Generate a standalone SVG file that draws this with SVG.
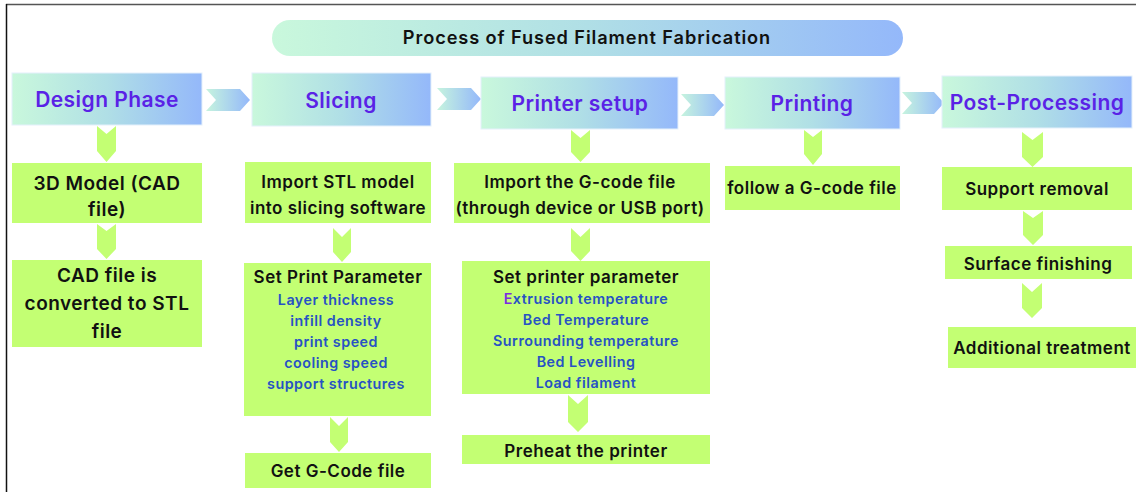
<svg xmlns="http://www.w3.org/2000/svg" width="1136" height="492" viewBox="0 0 1136 492">
<defs>
<linearGradient id="hg" x1="0" y1="0" x2="1" y2="0">
<stop offset="0" stop-color="#c9f8dc"/>
<stop offset="0.5" stop-color="#b0dfe6"/>
<stop offset="1" stop-color="#94b8fa"/>
</linearGradient>
<linearGradient id="ag" x1="0" y1="0" x2="1" y2="0">
<stop offset="0" stop-color="#c6f4de"/>
<stop offset="1" stop-color="#94b8fa"/>
</linearGradient>
<style>
.hd{fill:url(#hg);stroke:#e4f0fb;stroke-width:1}
.gb{fill:#c3ff73}
.ch{fill:#c3ff73}
.ha{fill:url(#ag)}
text{font-family:Inter,"Liberation Sans",sans-serif;text-anchor:middle}
.ht{font-size:21px;font-weight:600;fill:#5a22e6;letter-spacing:0.45px}
.tt{font-size:18.2px;font-weight:600;fill:#111;letter-spacing:0.9px}
.bt{font-size:17px;font-weight:600;fill:#111;letter-spacing:0.5px}
.bb{font-size:19px;font-weight:600;fill:#111;letter-spacing:0.5px}
.bl{font-size:14.3px;font-weight:600;fill:#2752c4;letter-spacing:0.5px}
</style>
</defs>
<rect x="0" y="0" width="1136" height="492" fill="#ffffff"/>
<line x1="6" y1="4.5" x2="1136" y2="4.5" stroke="#555" stroke-width="1.5"/>
<line x1="6.5" y1="4" x2="6.5" y2="492" stroke="#111" stroke-width="1.5"/>

<g id="title">
<rect x="272" y="20" width="631" height="36" rx="18" fill="url(#hg)"/>
<text x="587" y="44" class="tt">Process of Fused Filament Fabrication</text>
</g>

<g id="connectors">
<polygon class="ha" points="206,89 240,89 250,100 240,111 206,111 216,100"/>
<polygon class="ha" points="437,88 471,88 481,99 471,110 437,110 447,99"/>
<polygon class="ha" points="681,94 714,94 724,105 714,116 681,116 691,105"/>
<polygon class="ha" points="902,92 934,92 944,103 934,114 902,114 912,103"/>
<polygon class="ch" points="97,126 106.5,134 116,126 116,151 106.5,162 97,151"/>
<polygon class="ch" points="97,224 106.5,231 116,224 116,249 106.5,259 97,249"/>
<polygon class="ch" points="333,228 342,237 351,228 351,252 342,262 333,252"/>
<polygon class="ch" points="330,417 339,426 348,417 348,442 339,452 330,442"/>
<polygon class="ch" points="571,130 580.5,138 590,130 590,152 580.5,162 571,152"/>
<polygon class="ch" points="571,228 580.5,237 590,228 590,251 580.5,261 571,251"/>
<polygon class="ch" points="568,395 578,404 588,395 588,422 578,432 568,422"/>
<polygon class="ch" points="804,130 813,137 822,130 822,154 813,165 804,154"/>
<polygon class="ch" points="1022,132 1032.5,140 1043,132 1043,157 1032.5,167 1022,157"/>
<polygon class="ch" points="1023,211 1033,218 1043,211 1043,235 1033,245 1023,235"/>
<polygon class="ch" points="1022,283 1032,292 1042,283 1042,308 1032,318 1022,308"/>
</g>

<g id="design">
<rect class="hd" x="12" y="73" width="190" height="52"/>
<text class="ht" x="107" y="107">Design Phase</text>
</g>
<g id="slicing">
<rect class="hd" x="252" y="73" width="179" height="53"/>
<text class="ht" x="341" y="108">Slicing</text>
</g>
<g id="printer-setup">
<rect class="hd" x="481" y="77" width="197" height="52"/>
<text class="ht" x="580" y="111">Printer setup</text>
</g>
<g id="printing">
<rect class="hd" x="725" y="77" width="175" height="52"/>
<text class="ht" x="812" y="111">Printing</text>
</g>
<g id="post-processing">
<rect class="hd" x="942" y="76" width="190" height="52"/>
<text class="ht" x="1037" y="110">Post-Processing</text>
</g>

<g id="cad-model">
<rect class="gb" x="12" y="163" width="190" height="60"/>
<text class="bb" x="107" y="190">3D Model (CAD</text>
<text class="bb" x="107" y="216">file)</text>
</g>
<g id="cad-stl">
<rect class="gb" x="12" y="260" width="190" height="87"/>
<text class="bb" x="107" y="282">CAD file is</text>
<text class="bb" x="107" y="310">converted to STL</text>
<text class="bb" x="107" y="338">file</text>
</g>

<g id="import-stl">
<rect class="gb" x="245" y="162" width="186" height="61"/>
<text class="bt" x="338" y="188">Import STL model</text>
<text class="bt" x="338" y="214">into slicing software</text>
</g>
<g id="print-param">
<rect class="gb" x="244" y="263" width="187" height="153"/>
<text class="bt" x="338" y="283">Set Print Parameter</text>
<text class="bl" x="336" y="305">Layer thickness</text>
<text class="bl" x="336" y="326">infill density</text>
<text class="bl" x="336" y="347">print speed</text>
<text class="bl" x="336" y="368">cooling speed</text>
<text class="bl" x="336" y="389">support structures</text>
</g>
<g id="get-gcode">
<rect class="gb" x="245" y="453" width="186" height="35"/>
<text class="bt" x="338" y="477">Get G-Code file</text>
</g>

<g id="import-gcode">
<rect class="gb" x="454" y="163" width="256" height="60"/>
<text class="bt" x="580" y="188">Import the G-code file</text>
<text class="bt" x="580" y="214">(through device or USB port)</text>
</g>
<g id="printer-param">
<rect class="gb" x="462" y="261" width="248" height="133"/>
<text class="bt" x="586" y="283">Set printer parameter</text>
<text class="bl" x="586" y="304"><tspan fill="#7b2be0">E</tspan>xtrusion temperature</text>
<text class="bl" x="586" y="325">Bed Temperature</text>
<text class="bl" x="586" y="346">Surrounding temperature</text>
<text class="bl" x="586" y="367">Bed Levelling</text>
<text class="bl" x="586" y="388">Load filament</text>
</g>
<g id="preheat">
<rect class="gb" x="462" y="435" width="248" height="29"/>
<text class="bt" x="586" y="457">Preheat the printer</text>
</g>

<g id="follow-gcode">
<rect class="gb" x="725" y="166" width="175" height="44"/>
<text class="bt" x="812" y="194">follow a G-code file</text>
</g>

<g id="support-removal">
<rect class="gb" x="942" y="167" width="190" height="43"/>
<text class="bt" x="1037" y="195">Support removal</text>
</g>
<g id="surface-finishing">
<rect class="gb" x="945" y="246" width="187" height="33"/>
<text class="bt" x="1038" y="270">Surface finishing</text>
</g>
<g id="additional-treatment">
<rect class="gb" x="948" y="327" width="188" height="41"/>
<text class="bt" x="1042" y="354">Additional treatment</text>
</g>
</svg>
